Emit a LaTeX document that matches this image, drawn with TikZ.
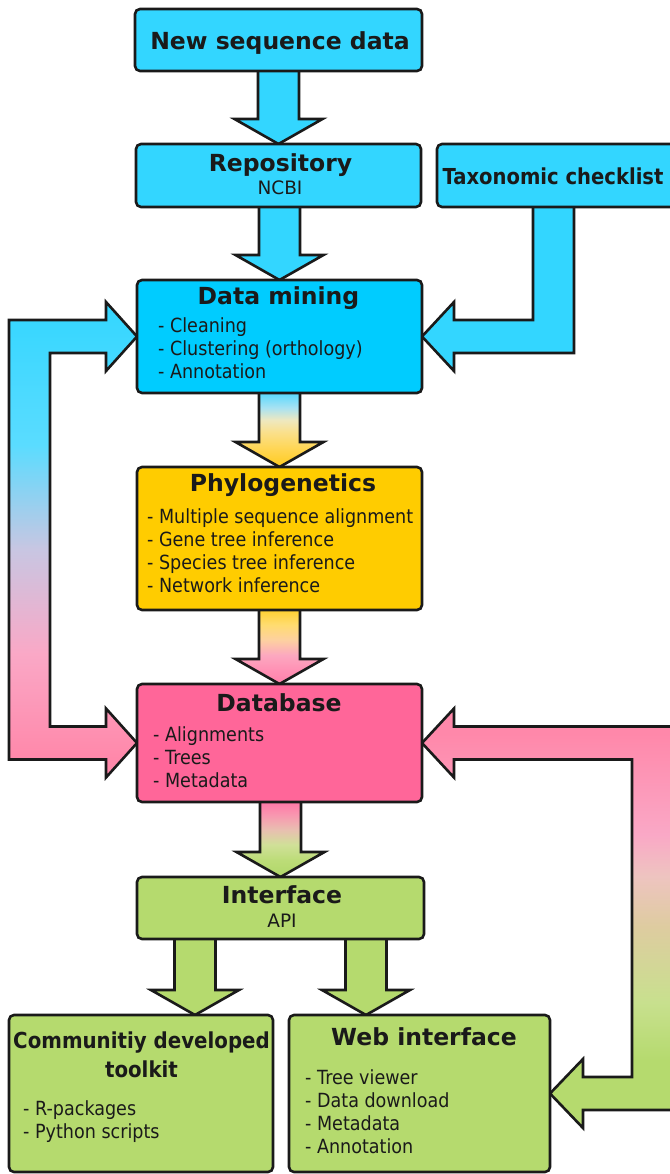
\documentclass[tikz,border=0pt]{standalone}
\usepackage{fontspec}
\usepackage{graphicx}
\setmainfont{DejaVu Sans}
\newfontfamily\bodyfont[FakeStretch=0.9]{DejaVu Sans}
\usetikzlibrary{calc}
\definecolor{cyanA}{HTML}{33D6FF}
\definecolor{cyanB}{HTML}{00CCFF}
\definecolor{yel}{HTML}{FFCC00}
\definecolor{pnk}{HTML}{FF6699}
\definecolor{grn}{HTML}{B5DA6E}
\definecolor{edgec}{HTML}{1A1A1A}
\definecolor{pkL}{HTML}{FF88AA}
\definecolor{pkM}{HTML}{FAA8C6}
\definecolor{pkS}{HTML}{EEC4C0}
\definecolor{lav}{HTML}{C8C6E2}
\definecolor{cyL}{HTML}{5ADCFF}
\definecolor{gL}{HTML}{C8E08E}
\definecolor{tanc}{HTML}{DECCA0}
% arrow 3 colours
\definecolor{aA}{HTML}{55D8FF}
\definecolor{aB}{HTML}{A8E2F2}
\definecolor{aC}{HTML}{EEE8C0}
\definecolor{aD}{HTML}{FAE08C}
\definecolor{aE}{HTML}{FFD656}
\definecolor{aF}{HTML}{FFCC22}
% arrow 4 colours
\definecolor{bA}{HTML}{FFD030}
\definecolor{bB}{HTML}{FFDC70}
\definecolor{bC}{HTML}{FDD0A0}
\definecolor{bD}{HTML}{FCA8C0}
\definecolor{bE}{HTML}{FF90B4}
\definecolor{bF}{HTML}{FF80AA}
% arrow 5 colours
\definecolor{cA}{HTML}{FF7AA8}
\definecolor{cB}{HTML}{F898B0}
\definecolor{cC}{HTML}{E8C0B0}
\definecolor{cD}{HTML}{D0E098}
\definecolor{cE}{HTML}{BCDC78}
\definecolor{cF}{HTML}{B0D868}
\pgfdeclareverticalshading{leftgrad}{100bp}{color(0bp)=(pkL); color(27bp)=(pkL); color(38bp)=(pkM); color(49bp)=(lav); color(60bp)=(cyL); color(75bp)=(cyanA); color(100bp)=(cyanA)}
\pgfdeclareverticalshading{rightgrad}{100bp}{color(0bp)=(grn); color(33bp)=(grn); color(40bp)=(gL); color(49bp)=(tanc); color(55bp)=(pkS); color(60bp)=(pkM); color(72bp)=(pkL); color(100bp)=(pkL)}
\pgfdeclareverticalshading{gradA}{100bp}{color(0bp)=(aF); color(26bp)=(aF); color(37.5bp)=(aE); color(48bp)=(aD); color(56bp)=(aC); color(64bp)=(aB); color(74bp)=(aA); color(100bp)=(aA)}
\pgfdeclareverticalshading{gradB}{100bp}{color(0bp)=(bF); color(25bp)=(bF); color(34bp)=(bE); color(44bp)=(bD); color(54bp)=(bC); color(64bp)=(bB); color(74bp)=(bA); color(100bp)=(bA)}
\pgfdeclareverticalshading{gradC}{100bp}{color(0bp)=(cF); color(25bp)=(cF); color(36bp)=(cE); color(46bp)=(cD); color(55.5bp)=(cC); color(65bp)=(cB); color(73bp)=(cA); color(100bp)=(cA)}
\pgfdeclarelayer{bg}
\pgfsetlayers{bg,main}
\tikzset{
  box/.style={draw=edgec, line width=2.6pt, rounded corners=5pt, inner sep=0pt, outer sep=0pt, anchor=north west},
  arrowline/.style={draw=edgec, line width=2.6pt, line join=miter},
  ttl/.style={font=\bfseries\fontsize{23.5}{28}\selectfont, text=edgec, anchor=base, inner sep=0pt},
  ttlc/.style={font=\bfseries\fontsize{22}{26}\selectfont, text=edgec, anchor=base, inner sep=0pt},
  sub/.style={font=\fontsize{18.5}{22}\selectfont, text=edgec, anchor=base, inner sep=0pt},
  item/.style={font=\bodyfont\fontsize{19.5}{23}\selectfont, text=edgec, anchor=base west, inner sep=0pt}
}
\newcommand{\vblock}[3]{%
  \path[#1] let \p1=(#2), \p2=(#3) in (\p2) -- (\x2-44pt,\y2+25pt) -- (\x2-20.5pt,\y2+25pt) -- (\x2-20.5pt,\y1+2pt) -- (\x2+20.5pt,\y1+2pt) -- (\x2+20.5pt,\y2+25pt) -- (\x2+44pt,\y2+25pt) -- cycle;}
\begin{document}
\begin{tikzpicture}[x=1pt,y=-1pt]
\useasboundingbox (0,0) rectangle (669,1174);
% boxes
\node[box, fill=cyanA, minimum width=287pt, minimum height=62pt] (nsd) at (135,9) {};
\node[box, fill=cyanA, minimum width=285pt, minimum height=63pt] (repo) at (136,144) {};
\node[box, fill=cyanA, minimum width=240pt, minimum height=63pt] (tax) at (437,144) {};
\node[box, fill=cyanB, minimum width=285pt, minimum height=113pt] (dm) at (137,280) {};
\node[box, fill=yel, minimum width=285pt, minimum height=143pt] (phy) at (137,467) {};
\node[box, fill=pnk, minimum width=285pt, minimum height=118pt] (db) at (137,684) {};
\node[box, fill=grn, minimum width=287pt, minimum height=62pt] (intf) at (137,877) {};
\node[box, fill=grn, minimum width=264pt, minimum height=157pt] (comm) at (9,1015) {};
\node[box, fill=grn, minimum width=261pt, minimum height=157pt] (web) at (289,1015) {};
\coordinate (tl) at (195,0);
\coordinate (tr) at (366,0);
% arrows
\begin{pgfonlayer}{bg}
\fill[white] (0,0) rectangle (669,1174);
\vblock{arrowline, fill=cyanA}{nsd.south}{repo.north}
\vblock{arrowline, fill=cyanA}{repo.south}{dm.north}
\vblock{arrowline, shade, shading=gradA}{dm.south}{phy.north}
\vblock{arrowline, shade, shading=gradB}{phy.south}{db.north}
\vblock{arrowline, shade, shading=gradC}{db.south}{intf.north}
\vblock{arrowline, fill=grn}{intf.south}{comm.north -| tl}
\vblock{arrowline, fill=grn}{intf.south}{web.north -| tr}
% taxonomic checklist arrow
\path[arrowline, fill=cyanA] let \p1=(tax.south), \p2=(dm.east) in
  (\p2) -- (\x2+32pt,\y2+34.5pt) -- (\x2+32pt,\y2+16.5pt) -- (533pt,\y2+16.5pt) -- (533pt,\y1+2pt)
  -- (574pt,\y1+2pt) -- (574pt,\y2-16.5pt) -- (\x2+32pt,\y2-16.5pt) -- (\x2+32pt,\y2-34.5pt) -- cycle;
% left double arrow
\path[arrowline, shade, shading=leftgrad] let \p1=(dm.west), \p2=(db.west) in
  (\p1) -- (\x1-31pt,\y1+34.5pt) -- (\x1-31pt,\y1+16.5pt) -- (9pt,\y1+16.5pt) -- (9pt,\y2-16.5pt)
  -- (\x2-31pt,\y2-16.5pt) -- (\x2-31pt,\y2-34.5pt) -- (\p2) -- (\x2-31pt,\y2+34.5pt)
  -- (\x2-31pt,\y2+16.5pt) -- (50pt,\y2+16.5pt) -- (50pt,\y1-16.5pt) -- (\x1-31pt,\y1-16.5pt)
  -- (\x1-31pt,\y1-34.5pt) -- cycle;
% right double arrow
\path[arrowline, shade, shading=rightgrad] let \p1=(db.east), \p2=(web.east) in
  (\p1) -- (\x1+32pt,\y1+34.5pt) -- (\x1+32pt,\y1+16.5pt) -- (680pt,\y1+16.5pt) -- (680pt,\y2-16.5pt)
  -- (\x2+33pt,\y2-16.5pt) -- (\x2+33pt,\y2-34.5pt) -- (\p2) -- (\x2+33pt,\y2+34.5pt)
  -- (\x2+33pt,\y2+16.5pt) -- (632pt,\y2+16.5pt) -- (632pt,\y1-16.5pt) -- (\x1+32pt,\y1-16.5pt)
  -- (\x1+32pt,\y1-34.5pt) -- cycle;
\end{pgfonlayer}
% texts
\node[ttl] (tnsd) at (280,50) {New sequence data};
\node[ttl] (trepo) at (280.5,171.5) {Repository};
\node[sub] (tncbi) at (280,194.5) {NCBI};
\node[ttlc] (ttax) at (553,184.5) {\scalebox{0.89}[1]{Taxonomic checklist}};
\node[ttl] (tdm) at (278.5,304) {Data mining};
\node[item] (dm1) at (158,332) {- Cleaning};
\node[item] (dm2) at (158,355) {- Clustering (orthology)};
\node[item] (dm3) at (158,378) {- Annotation};
\node[ttl] (tphy) at (283,491) {Phylogenetics};
\node[item] (p1) at (147,523) {- Multiple sequence alignment};
\node[item] (p2) at (147,546) {- Gene tree inference};
\node[item] (p3) at (147,569) {- Species tree inference};
\node[item] (p4) at (147,592) {- Network inference};
\node[ttl] (tdb) at (279,711.5) {Database};
\node[item] (d1) at (153,741) {- Alignments};
\node[item] (d2) at (153,764) {- Trees};
\node[item] (d3) at (153,787) {- Metadata};
\node[ttl] (tintf) at (282,903.5) {Interface};
\node[sub] (tapi) at (282,927.5) {API};
\node[ttlc] (tcomm1) at (141.5,1048.5) {\scalebox{0.9}[1]{Communitiy developed}};
\node[ttlc] (tcomm2) at (141.5,1077.5) {\scalebox{0.9}[1]{toolkit}};
\node[item] (c1) at (23,1115) {- R-packages};
\node[item] (c2) at (23,1138.5) {- Python scripts};
\node[ttl] (tweb) at (424,1045) {Web interface};
\node[item] (w1) at (305,1084) {- Tree viewer};
\node[item] (w2) at (305,1107) {- Data download};
\node[item] (w3) at (305,1130) {- Metadata};
\node[item] (w4) at (305,1153.5) {- Annotation};
\end{tikzpicture}
\end{document}
